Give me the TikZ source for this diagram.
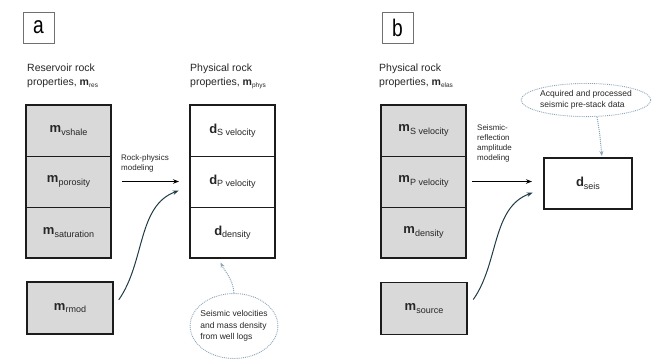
\documentclass[tikz,border=0pt]{standalone}
\usepackage{fontspec}
\setmainfont{Liberation Sans}
\newfontfamily\panelfont[FakeStretch=0.8]{Liberation Sans}
\usetikzlibrary{shapes.geometric}
\usetikzlibrary{arrows.meta}
\usetikzlibrary{positioning}
\definecolor{cellgrey}{HTML}{D9D9D9}
\definecolor{boxline}{HTML}{1C1C1C}
\definecolor{tagline}{HTML}{707070}
\definecolor{notering}{HTML}{8AA3B5}
\definecolor{curveline}{HTML}{1F3B47}
\definecolor{textgrey}{HTML}{262626}
\newcommand{\cellvar}[2]{{\fontsize{13}{13}\selectfont\bfseries #1}\raisebox{-2.5pt}{\fontsize{9}{9}\selectfont #2}}
\newcommand{\headvar}[2]{\textbf{#1}\raisebox{-2pt}{\fontsize{6.5}{6.5}\selectfont #2}}
\tikzset{
  cell/.style = {rectangle, draw=boxline, line width=0.7pt, text=textgrey,
    minimum width=85pt, minimum height=51pt, inner sep=0pt, outer sep=0pt},
  grey_cell/.style = {cell, fill=cellgrey},% grey model cell
  white_cell/.style = {cell, fill=white},% white data cell
  grey_box/.style = {grey_cell, line width=1.6pt, minimum width=86pt, minimum height=52pt},
  white_box/.style = {white_cell, line width=1.6pt, minimum width=88pt},
  frame/.style = {draw=boxline, line width=1.6pt},% outer border of a stack
  heading/.style = {align=left, anchor=north west, inner sep=0pt, text=textgrey,
    font=\fontsize{10.5}{14}\selectfont},
  arrow_label/.style = {align=left, anchor=south west, inner sep=0pt, text=textgrey,
    font=\fontsize{8}{10}\selectfont},
  note/.style = {ellipse, draw=notering, densely dotted, line width=0.9pt,
    align=left, text=textgrey, font=\fontsize{8.5}{11.5}\selectfont},
  panel_tag/.style = {draw=tagline, line width=1pt, minimum size=31pt, inner sep=0pt,
    font=\panelfont\fontsize{24}{24}\selectfont},
  flow/.style = {-{Stealth[length=6pt,width=4.5pt]}, draw=black, line width=1pt},
  feed/.style = {flow, draw=curveline},
  hint/.style = {-{Stealth[length=5pt,width=4pt]}, draw=notering, densely dotted, line width=1pt}
}

\begin{document}
\begin{tikzpicture}[x=1pt, y=1pt]
  \useasboundingbox (0,0) rectangle (658,-360);
  % panel a
  \node [panel_tag] (tag_a) at (38.5,-27.5) {a};
  \node [heading] (head_res) at (27,-64) {Reservoir rock\\properties, \headvar{m}{res}};
  \node [grey_cell] (res_vsh) at (68.5,-130.5) {\cellvar{m}{vshale}};
  \node [grey_cell, below=0pt of res_vsh] (res_por) {\cellvar{m}{porosity}};
  \node [grey_cell, below=0pt of res_por] (res_sat) {\cellvar{m}{saturation}};
  \draw [frame] (res_vsh.north west) rectangle (res_sat.south east);
  \node [grey_box] (rmod) at (70,-308) {\cellvar{m}{rmod}};

  \node [heading] (head_phys) at (190,-64) {Physical rock\\properties, \headvar{m}{phys}};
  \node [white_cell, right=79pt of res_vsh] (phys_svel) {\cellvar{d}{S velocity}};
  \node [white_cell, below=0pt of phys_svel] (phys_pvel) {\cellvar{d}{P velocity}};
  \node [white_cell, below=0pt of phys_pvel] (phys_dens) {\cellvar{d}{density}};
  \draw [frame] (phys_svel.north west) rectangle (phys_dens.south east);

  \draw [flow, shorten <=11pt, shorten >=11pt] (res_por.east) -- (res_por.east -| phys_pvel.west);
  \node [arrow_label] (rp_label) at ([xshift=10pt, yshift=9.5pt]res_por.east) {Rock-physics\\modeling};
  \draw [feed, shorten <=10pt, shorten >=12pt] (rmod.east)
    to [out=55, in=200] ([yshift=-5pt]phys_pvel.west);

  \node [note, inner xsep=-2.5pt, inner ysep=7.5pt] (wells) at (234,-326)
    {Seismic velocities\\and mass density\\from well logs};
  \draw [hint, shorten >=5pt] (wells.north) to [out=95, in=-65] ([xshift=-14pt]phys_dens.south);

  % panel b
  \node [panel_tag] (tag_b) at (397.5,-27.5) {b};
  \node [heading] (head_elas) at (379,-64) {Physical rock\\properties, \headvar{m}{elas}};
  \node [grey_cell] (elas_svel) at (423.5,-130.5) {\cellvar{m}{S velocity}};
  \node [grey_cell, below=0pt of elas_svel] (elas_pvel) {\cellvar{m}{P velocity}};
  \node [grey_cell, below=0pt of elas_pvel] (elas_dens) {\cellvar{m}{density}};
  \draw [frame] (elas_svel.north west) rectangle (elas_dens.south east);
  \node [grey_box] (source) at (424,-308.5) {\cellvar{m}{source}};

  \node [white_box] (seis) at (588,-183.5) {\cellvar{d}{seis}};
  \draw [flow, shorten <=6pt, shorten >=12pt] (elas_pvel.east) -- (elas_pvel.east -| seis.west);
  \node [arrow_label] (sr_label) at ([xshift=11pt, yshift=19pt]elas_pvel.east)
    {Seismic-\\reflection\\amplitude\\modeling};
  \draw [feed, shorten <=11pt, shorten >=12pt] (source.east)
    to [out=55, in=200] ([yshift=-5pt]seis.west);

  \node [note, inner xsep=0pt, inner ysep=2pt] (acq) at (586,-100)
    {Acquired and processed\\seismic pre-stack data};
  \draw [hint, shorten >=2pt] ([xshift=11pt]acq.south) to [out=-80, in=95] ([xshift=14pt]seis.north);
\end{tikzpicture}
\end{document}
